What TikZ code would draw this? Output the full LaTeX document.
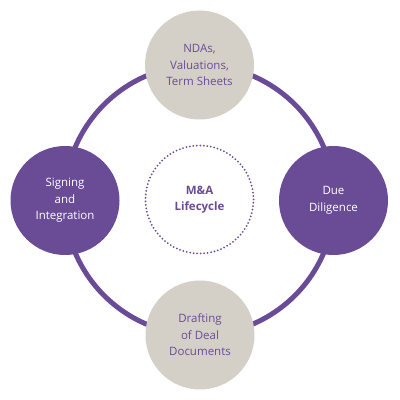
\documentclass[tikz,border=0pt]{standalone}
\usepackage{fontspec}
\setmainfont{Open Sans}
\definecolor{mapurple}{RGB}{106,76,150}
\definecolor{magrey}{RGB}{212,208,199}
\tikzset{
  stage/.style={circle, minimum size=109pt, inner sep=0pt, align=center,
    font=\fontsize{11.5}{16.5}\selectfont},
  purplestage/.style={stage, fill=mapurple, text=white},
  greystage/.style={stage, fill=magrey, text=mapurple},
  ring/.style={draw=mapurple, line width=5pt},
  centerdot/.style={circle, minimum size=108pt, inner sep=0pt, align=center,
    draw=mapurple, line width=2pt, line cap=round, dash pattern=on 0pt off 3.5pt,
    text=mapurple, font=\fontsize{11.5}{16.5}\selectfont\bfseries}
}
\begin{document}
\begin{tikzpicture}[x=1pt,y=1pt]
\useasboundingbox (0,0) rectangle (400,400);
\fill[white] (0,0) rectangle (400,400);
\coordinate (c) at (199.5,200);
\draw[ring] (c) circle[radius=135];
\node[greystage] (top) at (199.5,335) {NDAs,\\Valuations,\\Term Sheets};
\node[purplestage] (right) at (333.5,199.5) {Due\\Diligence};
\node[greystage] (bottom) at (200,65) {Drafting\\of Deal\\Documents};
\node[purplestage] (left) at (65,199.5) {Signing\\and\\Integration};
\node[centerdot] (mid) at (199.5,200.5) {M\&A\\Lifecycle};
\end{tikzpicture}
\end{document}
